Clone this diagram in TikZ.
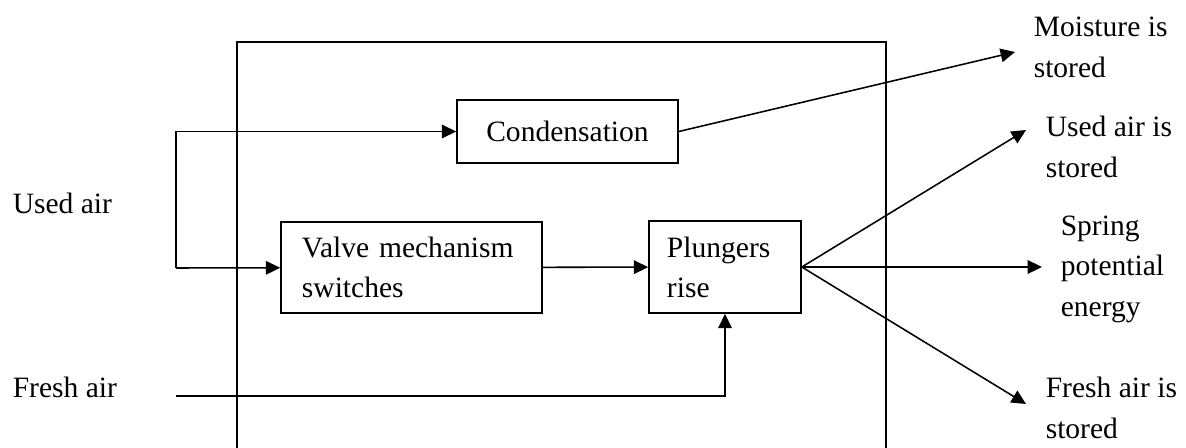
\documentclass[tikz,border=0pt]{standalone}
\usepackage{fontspec}
\setmainfont{Liberation Serif}
\usetikzlibrary{arrows.meta}

\begin{document}
\begin{tikzpicture}[x=0.025cm,y=-0.025cm,line width=1.1pt,>={Triangle[length=3.6mm,width=3.4mm]},
  every node/.style={font=\fontsize{21}{28.45}\selectfont},
  blk/.style={draw,rectangle,line width=1.1pt,inner ysep=0pt,align=left},
  lbl/.style={anchor=base west,inner sep=0pt,align=left}]
  \useasboundingbox (0,0) rectangle (1186,448);
  % outer frame, open at the bottom
  \draw (237,448) |- (886,42) -- (886,448);
  \node[blk,align=center,minimum width=5.525cm,minimum height=1.575cm] (cond) at (567.5,131.5) {Condensation};
  \node[blk,inner xsep=0.525cm,text width=5.475cm,minimum height=2.275cm] (valve) at (411.5,267.5) {Valve mechanism\\switches};
  \node[blk,inner xsep=0.45cm,text width=2.9cm,minimum height=2.3cm] (plung) at (725,267) {Plungers\\rise};
  % labels: base is the baseline of the last line
  \node[lbl] (used) at (12,213) {Used air};
  \node[lbl] (fresh) at (12,397) {Fresh air};
  \node[lbl] (moist) at (1033,77) {Moisture is\\stored};
  \node[lbl] (usedst) at (1045,177) {Used air is\\stored};
  \node[lbl] (spring) at (1060,316) {Spring\\potential\\energy};
  \node[lbl] (freshst) at (1045,438) {Fresh air is\\stored};
  \coordinate (fork) at (176,268);
  \coordinate (freshin) at (176,396);
  \coordinate (moisttip) at (1015,52);
  \coordinate (usedtip) at (1026,130);
  \coordinate (springtip) at (1042,267);
  \coordinate (freshtip) at (1026,404);
  \draw[->] (fork) |- (cond);
  \draw[->] (fork) -- (valve);
  \draw[->] (valve) -- (plung);
  \draw[->] (freshin) -| (plung);
  \draw[->] (cond.east) -- (moisttip);
  \draw[->] (plung.east) -- (usedtip);
  \draw[->] (plung.east) -- (springtip);
  \draw[->] (plung.east) -- (freshtip);
\end{tikzpicture}
\end{document}
